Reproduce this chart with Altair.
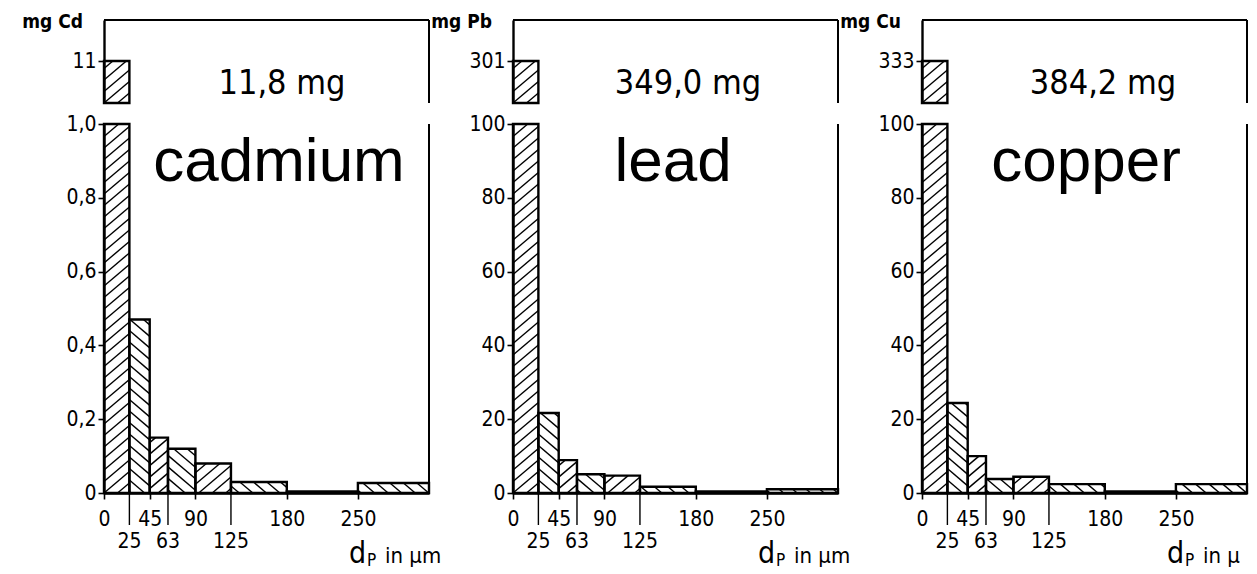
import altair as alt
import pandas as pd
import numpy as np

# ---------------- data ----------------
bin_edges = [0, 25, 45, 63, 90, 125, 180, 250, 320]
cd_mass = [11, 0.47, 0.15, 0.12, 0.08, 0.03, 0.004, 0.027]
pb_mass = [301, 21.7, 8.9, 5.1, 4.7, 1.7, 0.4, 1.0]
cu_mass = [333, 24.4, 10.0, 3.8, 4.4, 2.4, 0.4, 2.4]
element_names = ["cadmium", "lead", "copper"]
unit_titles = ["mg Cd", "mg Pb", "mg Cu"]
total_labels = ["11,8 mg", "349,0 mg", "384,2 mg"]
main_max = [1.0, 100, 100]
main_ticks = [[0, 0.2, 0.4, 0.6, 0.8, 1.0],
              [0, 20, 40, 60, 80, 100],
              [0, 20, 40, 60, 80, 100]]
x_ticks_row1 = [0, 45, 90, 180, 250]
x_ticks_row2 = [25, 63, 125]
x_title_parts = ["d", "P", "in µm"]

# ---------------- style ----------------
W = 325
H_TOP = 83
H_MAIN = 369
BAR_TOP_PX = 42
FONT_T = "DejaVu Sans Condensed, Liberation Sans Narrow, DejaVu Sans"
FONT_BIG = "Liberation Sans, Arial, Helvetica"
LABEL_DX = [175, 160, 164]
TOTAL_DX = [178, 175, 181]
TITLE_LIMIT = [200, 200, 44]
series = [cd_mass, pb_mass, cu_mass]


def hatch_segments(x0, x1, y0, y1, kx, ky, direction, spacing=11.5, slope=0.85):
    X0, X1, Y0, Y1 = x0 * kx, x1 * kx, y0 * ky, y1 * ky
    out = []
    if Y1 - Y0 < 1.0:
        return out
    s = slope * direction
    corners = [Y0 - s * X0, Y0 - s * X1, Y1 - s * X0, Y1 - s * X1]
    cmin, cmax = min(corners), max(corners)
    c = np.ceil(cmin / spacing) * spacing
    while c < cmax:
        xa, xb = (Y0 - c) / s, (Y1 - c) / s
        lo = max(X0, min(xa, xb))
        hi = min(X1, max(xa, xb))
        if hi - lo > 0.5:
            out.append(dict(x=lo / kx, y=(s * lo + c) / ky,
                            x2=hi / kx, y2=(s * hi + c) / ky))
        c += spacing
    return out


xs = alt.Scale(domain=[bin_edges[0], bin_edges[-1]], nice=False, zero=False)
kx = W / (bin_edges[-1] - bin_edges[0])


def top_chart(i):
    vals = series[i]
    v = vals[0]
    ymax = v * H_TOP / BAR_TOP_PX
    ys = alt.Scale(domain=[0, ymax], nice=False)
    ky = H_TOP / ymax
    bar = pd.DataFrame({"x0": [bin_edges[0]], "x1": [bin_edges[1]], "v": [v], "b": [0]})
    hatch = pd.DataFrame(hatch_segments(bin_edges[0], bin_edges[1], 0, v, kx, ky, 1))
    frame = pd.DataFrame({"x": [bin_edges[0], bin_edges[-1]],
                          "x2": [bin_edges[-1], bin_edges[-1]],
                          "y": [ymax, 0], "y2": [ymax, ymax]})
    layers = []
    layers.append(alt.Chart(hatch).mark_rule(color="black", strokeWidth=1.4).encode(
        x=alt.X("x:Q", scale=xs, axis=None),
        x2="x2:Q",
        y=alt.Y("y:Q", scale=ys, title=None,
                axis=alt.Axis(values=[v], format="d", tickSize=6, labelPadding=2,
                              labelFlush=False, title=None)),
        y2="y2:Q"))
    layers.append(alt.Chart(bar).mark_rect(fillOpacity=0, stroke="black", strokeWidth=2.4).encode(
        x=alt.X("x0:Q", scale=xs, axis=None), x2="x1:Q",
        y=alt.Y("v:Q", scale=ys, title=None), y2="b:Q"))
    layers.append(alt.Chart(frame).mark_rule(color="black", strokeWidth=2).encode(
        x=alt.X("x:Q", scale=xs, axis=None), x2="x2:Q",
        y=alt.Y("y:Q", scale=ys, title=None), y2="y2:Q"))
    layers.append(alt.Chart(pd.DataFrame({"t": [total_labels[i]]})).mark_text(
        font=FONT_T, fontSize=34, align="center", baseline="alphabetic", color="black").encode(
        x=alt.value(TOTAL_DX[i]), y=alt.value(74), text="t:N"))
    layers.append(alt.Chart(pd.DataFrame({"t": [unit_titles[i]]})).mark_text(
        font=FONT_T, fontSize=19, fontWeight="bold", align="right", baseline="alphabetic",
        color="black").encode(x=alt.value(-21), y=alt.value(8), text="t:N"))
    if i == 0:
        layers.append(alt.Chart(pd.DataFrame({"k": [0]})).mark_rule(
            color="white", strokeWidth=1).encode(
            x=alt.value(-95), y=alt.value(-11), y2=alt.value(0)))
    return alt.layer(*layers).properties(width=W, height=H_TOP)


def main_chart(i):
    vals = series[i]
    ymax = main_max[i]
    ys = alt.Scale(domain=[0, ymax], nice=False)
    ky = H_MAIN / ymax
    bars = pd.DataFrame({"x0": bin_edges[:-1], "x1": bin_edges[1:],
                         "v": [min(v, ymax) for v in vals], "b": 0})
    segs = []
    for j, r in bars.iterrows():
        segs += hatch_segments(r.x0, r.x1, 0, r.v, kx, ky, 1 if j % 2 == 0 else -1)
    hatch = pd.DataFrame(segs)
    if i == 0:
        ylab = "datum.value == 0 ? '0' : replace(format(datum.value, '.1f'), '.', ',')"
    else:
        ylab = "format(datum.value, 'd')"
    frame = pd.DataFrame({"x": [bin_edges[-1]], "y": [0], "y2": [ymax]})
    row2 = pd.DataFrame({"x": x_ticks_row2, "t": [str(t) for t in x_ticks_row2]})
    layers = []
    layers.append(alt.Chart(hatch).mark_rule(color="black", strokeWidth=1.4).encode(
        x=alt.X("x:Q", scale=xs, title=None,
                axis=alt.Axis(values=x_ticks_row1, format="d", tickSize=6, labelPadding=9,
                              labelFlush=False, labelOverlap=False, title=None)),
        x2="x2:Q",
        y=alt.Y("y:Q", scale=ys, title=None,
                axis=alt.Axis(values=main_ticks[i], labelExpr=ylab, tickSize=6,
                              labelPadding=2, labelFlush=False, labelOverlap=False,
                              title=None)),
        y2="y2:Q"))
    layers.append(alt.Chart(bars).mark_rect(fillOpacity=0, stroke="black", strokeWidth=2.4).encode(
        x=alt.X("x0:Q", scale=xs, title=None), x2="x1:Q",
        y=alt.Y("v:Q", scale=ys, title=None), y2="b:Q"))
    layers.append(alt.Chart(frame).mark_rule(color="black", strokeWidth=2).encode(
        x=alt.X("x:Q", scale=xs, title=None),
        y=alt.Y("y:Q", scale=ys, title=None), y2="y2:Q"))
    layers.append(alt.Chart(row2).mark_rule(color="black", strokeWidth=1.4).encode(
        x=alt.X("x:Q", scale=xs, title=None),
        y=alt.value(H_MAIN), y2=alt.value(H_MAIN + 32)))
    layers.append(alt.Chart(row2).mark_text(
        font=FONT_T, fontSize=21, align="center", baseline="middle", color="black").encode(
        x=alt.X("x:Q", scale=xs, title=None), y=alt.value(H_MAIN + 49), text="t:N"))
    layers.append(alt.Chart(pd.DataFrame({"t": [x_title_parts[0]]})).mark_text(
        font=FONT_T, fontSize=30, align="left", baseline="alphabetic", color="black").encode(
        x=alt.value(245), y=alt.value(H_MAIN + 70), text="t:N"))
    layers.append(alt.Chart(pd.DataFrame({"t": [x_title_parts[1]]})).mark_text(
        font=FONT_T, fontSize=17, align="left", baseline="alphabetic", color="black").encode(
        x=alt.value(245 + 18), y=alt.value(H_MAIN + 73), text="t:N"))
    layers.append(alt.Chart(pd.DataFrame({"t": [x_title_parts[2]]})).mark_text(
        font=FONT_T, fontSize=22, align="left", baseline="alphabetic", color="black",
        limit=TITLE_LIMIT[i], ellipsis=" ").encode(
        x=alt.value(245 + 36), y=alt.value(H_MAIN + 70), text="t:N"))
    layers.append(alt.Chart(pd.DataFrame({"t": [element_names[i]]})).mark_text(
        font=FONT_BIG, fontSize=62, align="center", baseline="alphabetic", color="black").encode(
        x=alt.value(LABEL_DX[i]), y=alt.value(57), text="t:N"))
    return alt.layer(*layers).properties(width=W, height=H_MAIN)


charts = [top_chart(i) for i in range(3)] + [main_chart(i) for i in range(3)]

chart = alt.concat(*charts, columns=3).properties(
    spacing={"row": 21, "column": 84},
    bounds="flush",
    padding=0,
).configure_view(stroke=None).configure_axis(
    labelFont=FONT_T, labelFontSize=21, labelColor="black",
    domainColor="black", domainWidth=2.4, tickColor="black", tickWidth=1.6,
    grid=False,
)

chart.save("out.html", embed_options={"renderer": "svg", "actions": False})
